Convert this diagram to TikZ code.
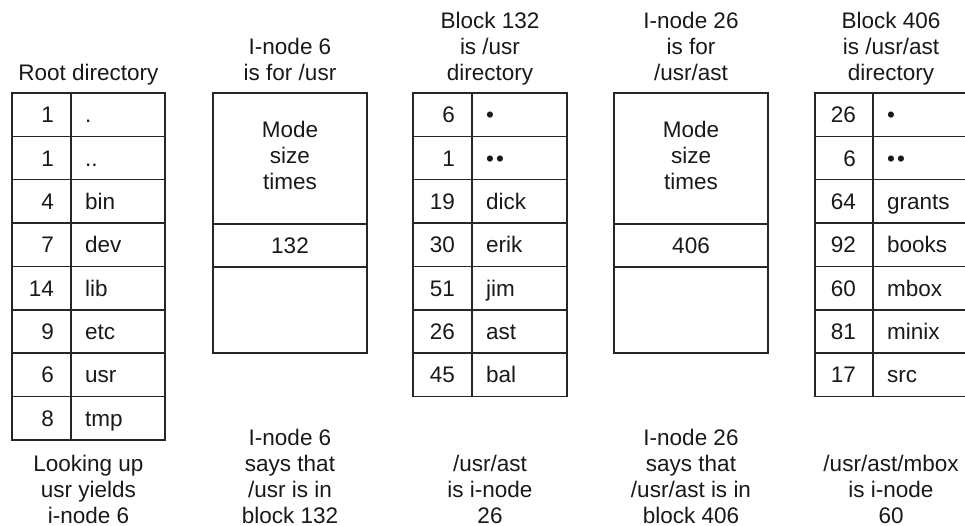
\documentclass[tikz,border=0pt]{standalone}
\usepackage{fontspec}
\setmainfont{Liberation Sans}
\begin{document}
\begin{tikzpicture}[x=1pt,y=-1pt,
  every node/.style={font=\fontsize{22.5}{26}\selectfont, text=black!90, inner sep=0pt},
  tbl/.style={draw=black!85, line width=1.6pt},
  num/.style={anchor=base east},
  nm/.style={anchor=base west},
  lbl/.style={align=center, anchor=base}]
\useasboundingbox (0,0) rectangle (965,526);
\def\rh{43.35}
% ---------- headers ----------
\node[lbl] (hroot) at (88.5,81) {Root directory};
\node[lbl] (hin6) at (290,81) {I-node 6\\is for /usr};
\node[lbl] (hb132) at (490,81) {Block 132\\is /usr\\directory};
\node[lbl] (hin26) at (691,81) {I-node 26\\is for\\/usr/ast};
\node[lbl] (hb406) at (891,81) {Block 406\\is /usr/ast\\directory};
% ---------- root directory ----------
\draw[tbl] (12,93) rectangle (165,{93+8*\rh});
\draw[tbl] (71,93) -- (71,{93+8*\rh});
\foreach \i in {1,...,7} \draw[tbl] (12,{93+\rh*\i}) -- (165,{93+\rh*\i});
\foreach \n/\f [count=\i from 0] in {1/.,1/..,4/bin,7/dev,14/lib,9/etc,6/usr,8/tmp} {
  \pgfmathsetmacro\yb{93+\rh*(\i+0.5)+8}
  \node[num] (rootn\i) at (54,\yb) {\n};
  \node[nm] (rootf\i) at (85,\yb) {\f};
}
% ---------- i-node 6 ----------
\draw[tbl] (213,93) rectangle (367,353);
\draw[tbl] (213,224) -- (367,224);
\draw[tbl] (213,267) -- (367,267);
\node[lbl] (in6a) at (290,190) {Mode\\size\\times};
\node[lbl] (in6b) at (290,254) {132};
% ---------- block 132 ----------
\draw[tbl] (413,93) rectangle (567,{93+7*\rh});
\draw[tbl] (472,93) -- (472,{93+7*\rh});
\foreach \i in {1,...,6} \draw[tbl] (413,{93+\rh*\i}) -- (567,{93+\rh*\i});
\foreach \n/\f [count=\i from 0] in {6/•,1/•\kern2pt•,19/dick,30/erik,51/jim,26/ast,45/bal} {
  \pgfmathsetmacro\yb{93+\rh*(\i+0.5)+8}
  \node[num] (bun\i) at (455,\yb) {\n};
  \node[nm] (buf\i) at (486,\yb) {\f};
}
% ---------- i-node 26 ----------
\draw[tbl] (614,93) rectangle (768,353);
\draw[tbl] (614,224) -- (768,224);
\draw[tbl] (614,267) -- (768,267);
\node[lbl] (in26a) at (691,190) {Mode\\size\\times};
\node[lbl] (in26b) at (691,254) {406};
% ---------- block 406 ----------
\begin{scope}
\clip (0,0) rectangle (965,526);
\draw[tbl] (815,93) rectangle (972,{93+7*\rh});
\draw[tbl] (873,93) -- (873,{93+7*\rh});
\foreach \i in {1,...,6} \draw[tbl] (815,{93+\rh*\i}) -- (972,{93+\rh*\i});
\end{scope}
\foreach \n/\f [count=\i from 0] in {26/•,6/•\kern2pt•,64/grants,92/books,60/mbox,81/minix,17/src} {
  \pgfmathsetmacro\yb{93+\rh*(\i+0.5)+8}
  \node[num] (ban\i) at (856,\yb) {\n};
  \node[nm] (baf\i) at (887,\yb) {\f};
}
% ---------- footers ----------
\node[lbl] (froot) at (88.5,523) {Looking up\\usr yields\\i-node 6};
\node[lbl] (fin6) at (290,523) {I-node 6\\says that\\/usr is in\\block 132};
\node[lbl] (fb132) at (490,523) {/usr/ast\\is i-node\\26};
\node[lbl] (fin26) at (691,523) {I-node 26\\says that\\/usr/ast is in\\block 406};
\node[lbl] (fb406) at (891,523) {/usr/ast/mbox\\is i-node\\60};
\end{tikzpicture}
\end{document}
